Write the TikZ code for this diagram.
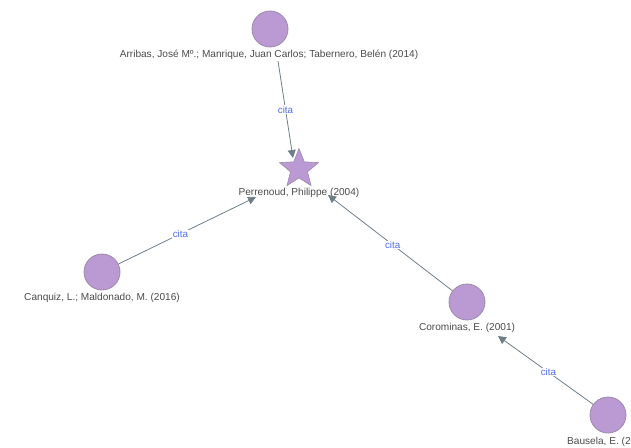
\documentclass[tikz,border=0pt]{standalone}
\usepackage{fontspec}
\setmainfont{Liberation Sans}
\usetikzlibrary{shapes.geometric,arrows.meta}
\definecolor{nodefill}{HTML}{BB99D2}
\definecolor{nodeline}{HTML}{9A8AAE}
\definecolor{edgecol}{HTML}{6E7E88}
\definecolor{labcol}{HTML}{4A4A4A}
\definecolor{citacol}{HTML}{4F6FEF}
\tikzset{
  x=1pt,y=-1pt,
  pub/.style={circle,draw=nodeline,fill=nodefill,line width=0.8pt,minimum size=36pt,inner sep=0pt},
  hub/.style={star,star points=5,star point ratio=2.3,draw=nodeline,fill=nodefill,line width=0.6pt,minimum size=41pt,inner sep=0pt},
  lab/.style={text=labcol,font=\fontsize{10.1}{11}\selectfont,inner sep=0pt,anchor=base},
  cite/.style={draw=edgecol,line width=0.8pt,-{Triangle[length=8pt,width=8pt]}},
  citalab/.style={text=citacol,font=\fontsize{9.8}{11}\selectfont,fill=white,inner sep=0.5pt}
}
\begin{document}
\begin{tikzpicture}
\useasboundingbox (0,0) rectangle (631,447);
\clip (0,0) rectangle (631,447);
% nodes
\node[pub] (arr) at (270,29) {};
\node[lab] (arrl) at (269,57) {Arribas, José Mº.; Manrique, Juan Carlos; Tabernero, Belén (2014)};
\node[hub] (per) at (299,169) {};
\node[lab] (perl) at (299,195) {Perrenoud, Philippe (2004)};
\node[pub] (can) at (102,272) {};
\node[lab] (canl) at (102,300) {Canquiz, L.; Maldonado, M. (2016)};
\node[pub] (cor) at (467,302) {};
\node[lab] (corl) at (467,330) {Corominas, E. (2001)};
\node[pub] (bau) at (608,415) {};
\node[lab,anchor=base west] (baul) at (567,444) {Bausela, E. (2005)};
% arrow ends
\coordinate (t1) at (293,158);
\coordinate (s1) at (278,61);
\coordinate (t2) at (256,197);
\coordinate (t3) at (328,195);
\coordinate (t4) at (498,336);
% edges
\draw[cite] (s1) -- node[citalab,pos=0.5] (c1) {cita} (t1);
\draw[cite] (can) -- node[citalab,pos=0.45] (c2) {cita} (t2);
\draw[cite] (cor) -- node[citalab,pos=0.48] (c3) {cita} (t3);
\draw[cite] (bau) -- node[citalab,pos=0.47] (c4) {cita} (t4);
\end{tikzpicture}
\end{document}
